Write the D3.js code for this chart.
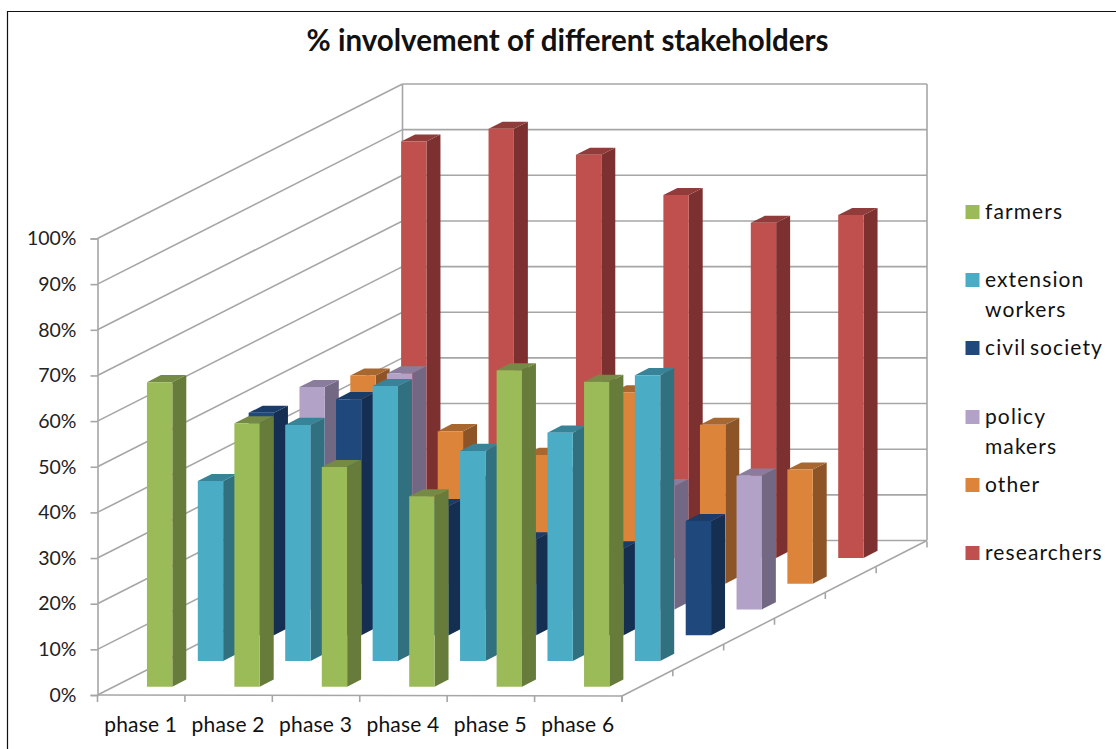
<!DOCTYPE html>
<html><head><meta charset="utf-8">
<script src="https://cdn.jsdelivr.net/npm/d3@7"></script>
<style>html,body{margin:0;padding:0;background:#fff;overflow:hidden}svg{display:block}text{font-family:Lato,sans-serif;fill:#111}</style>
</head><body><svg id="c" width="1116" height="749"></svg>
<script>
const title = "% involvement of different stakeholders";
const categories = ["phase 1","phase 2","phase 3","phase 4","phase 5","phase 6"];
const seriesNames = ["farmers","extension workers","civil society","policy makers","other","researchers"];
const farmers     = [66.7,57.7,48.1,41.7,69.3,66.8];
const extension   = [39.4,51.7,60.2,46.0,50.0,62.6];
const civil       = [48.7,51.7,28.3,21.0,19.0,25.0];
const policy      = [48.7,51.7,28.0,30.0,27.0,29.3];
const other       = [45.6,33.4,28.2,41.9,34.8,25.0];
const researchers = [91.2,94.0,88.3,79.5,73.4,75.1];
const seriesValues = [farmers,extension,civil,policy,other,researchers];
const yTicks = [0,10,20,30,40,50,60,70,80,90,100];
const faceFront = ["#9BBB59","#4BACC6","#1F497D","#B3A2C7","#DD843B","#C0504D"];
const faceSide  = ["#677C3B","#31707F","#152F52","#736884","#8D5527","#7C3130"];
const faceTop   = ["#748A45","#388398","#1A3C68","#8A7C9C","#A96730","#8F3C3A"];
const legendLines = [["farmers"],["extension","workers"],["civil society"],["policy","makers"],["other"],["researchers"]];
const legendY = [212,280,348,417,485,553];

const svg = d3.select("#c");
svg.append("path").attr("d","M7.5,749V11.5H1116").attr("fill","none").attr("stroke","#111").attr("stroke-width",1.2);
svg.append("text").attr("x",567.5).attr("y",51).attr("text-anchor","middle")
  .attr("font-size",29.5).attr("font-weight",700).text(title);

const x = d3.scaleLinear().domain([0,6]).range([97.5,622]);
const y = d3.scaleLinear().domain([0,100]).range([695,238.5]);
const depthX = d3.scaleLinear().domain([0,6]).range([0,305]);
const depthY = d3.scaleLinear().domain([0,6]).range([0,154.5]);
const px = (c,d)=>x(c)+depthX(d);
const py = (v,d)=>y(v)-depthY(d);
const grid = "#A6A6A6";
const g = svg.append("g").attr("fill","none").attr("stroke",grid).attr("stroke-width",1.6);
const seg = (a,b)=>g.append("line").attr("x1",a[0]).attr("y1",a[1]).attr("x2",b[0]).attr("y2",b[1]);
yTicks.forEach(t=>{
  seg([px(0,0),py(t,0)],[px(0,6),py(t,6)]);
  seg([px(0,6),py(t,6)],[px(6,6),py(t,6)]);
});
seg([px(0,6),py(0,6)],[px(0,6),py(100,6)]);
seg([px(6,6),py(0,6)],[px(6,6),py(100,6)]);
seg([px(0,0),py(0,0)],[px(6,0),py(0,0)+1]);
seg([px(6,0),py(0,0)+1],[px(6,6),py(0,6)]);
d3.range(7).forEach(i=>{
  seg([px(i,0),py(0,0)],[px(i,0),py(0,0)+7]);
  seg([px(6,i),py(0,i)+1],[px(6,i),py(0,i)+7]);
});

const yAxis = svg.append("g").attr("transform",`translate(${px(0,0)},0)`)
  .call(d3.axisLeft(y).tickValues(yTicks).tickFormat(d=>d+"%").tickSize(7).tickPadding(14));
yAxis.select(".domain").attr("stroke",grid).attr("stroke-width",1.6);
yAxis.selectAll(".tick line").attr("stroke",grid).attr("stroke-width",1.6);
yAxis.selectAll("text").attr("font-size",19.5).attr("font-family","Lato").style("fill","#222");

const band = d3.scaleBand().domain(categories).range([97.5,622]).paddingInner(0.71).paddingOuter(0.355);
const depthBand = d3.scaleBand().domain(seriesNames).range([0,305]).paddingInner(0.725).paddingOuter(0.3625);
const slope = 154.5/305;
svg.append("g").attr("font-size",21).attr("letter-spacing",0.2).attr("text-anchor","middle").selectAll("text").data(categories).join("text")
  .attr("x",d=>band(d)+band.bandwidth()/2-0.5).attr("y",732).text(d=>d);

const bars = [];
seriesNames.forEach((n,s)=>categories.forEach((c,i)=>bars.push({s,c,n,v:seriesValues[s][i]})));
bars.sort((a,b)=>b.s-a.s);
const rows = svg.append("g").selectAll("g").data(bars).join("g");
const dw = depthBand.bandwidth(), dh = dw*slope, w = band.bandwidth();
const geom = d=>{
  const dx = depthBand(d.n), x0 = band(d.c)+dx, base = y(0)+1-dx*slope, top = base-(y(0)-y(d.v));
  return {x0,base,top};
};
rows.append("polygon").attr("fill",d=>faceSide[d.s]).attr("points",d=>{const g=geom(d);
  return [[g.x0+w,g.base],[g.x0+w+dw,g.base-dh],[g.x0+w+dw,g.top-dh],[g.x0+w,g.top]].join(" ");});
rows.append("polygon").attr("fill",d=>faceTop[d.s]).attr("points",d=>{const g=geom(d);
  return [[g.x0,g.top],[g.x0+w,g.top],[g.x0+w+dw,g.top-dh],[g.x0+dw,g.top-dh]].join(" ");});
rows.append("polygon").attr("fill",d=>faceFront[d.s]).attr("points",d=>{const g=geom(d);
  return [[g.x0,g.base],[g.x0+w,g.base],[g.x0+w,g.top],[g.x0,g.top]].join(" ");});

const lg = svg.append("g").selectAll("g").data(seriesNames).join("g");
lg.append("rect").attr("x",965.5).attr("y",(d,i)=>legendY[i]-7).attr("width",14).attr("height",14).attr("fill",(d,i)=>faceFront[i]);
lg.each(function(d,i){
  legendLines[i].forEach((t,k)=>d3.select(this).append("text").attr("x",985).attr("y",legendY[i]+6.5+k*30)
    .attr("font-size",21).attr("letter-spacing",1.1).attr("word-spacing",-3).text(t));
});
</script></body></html>
